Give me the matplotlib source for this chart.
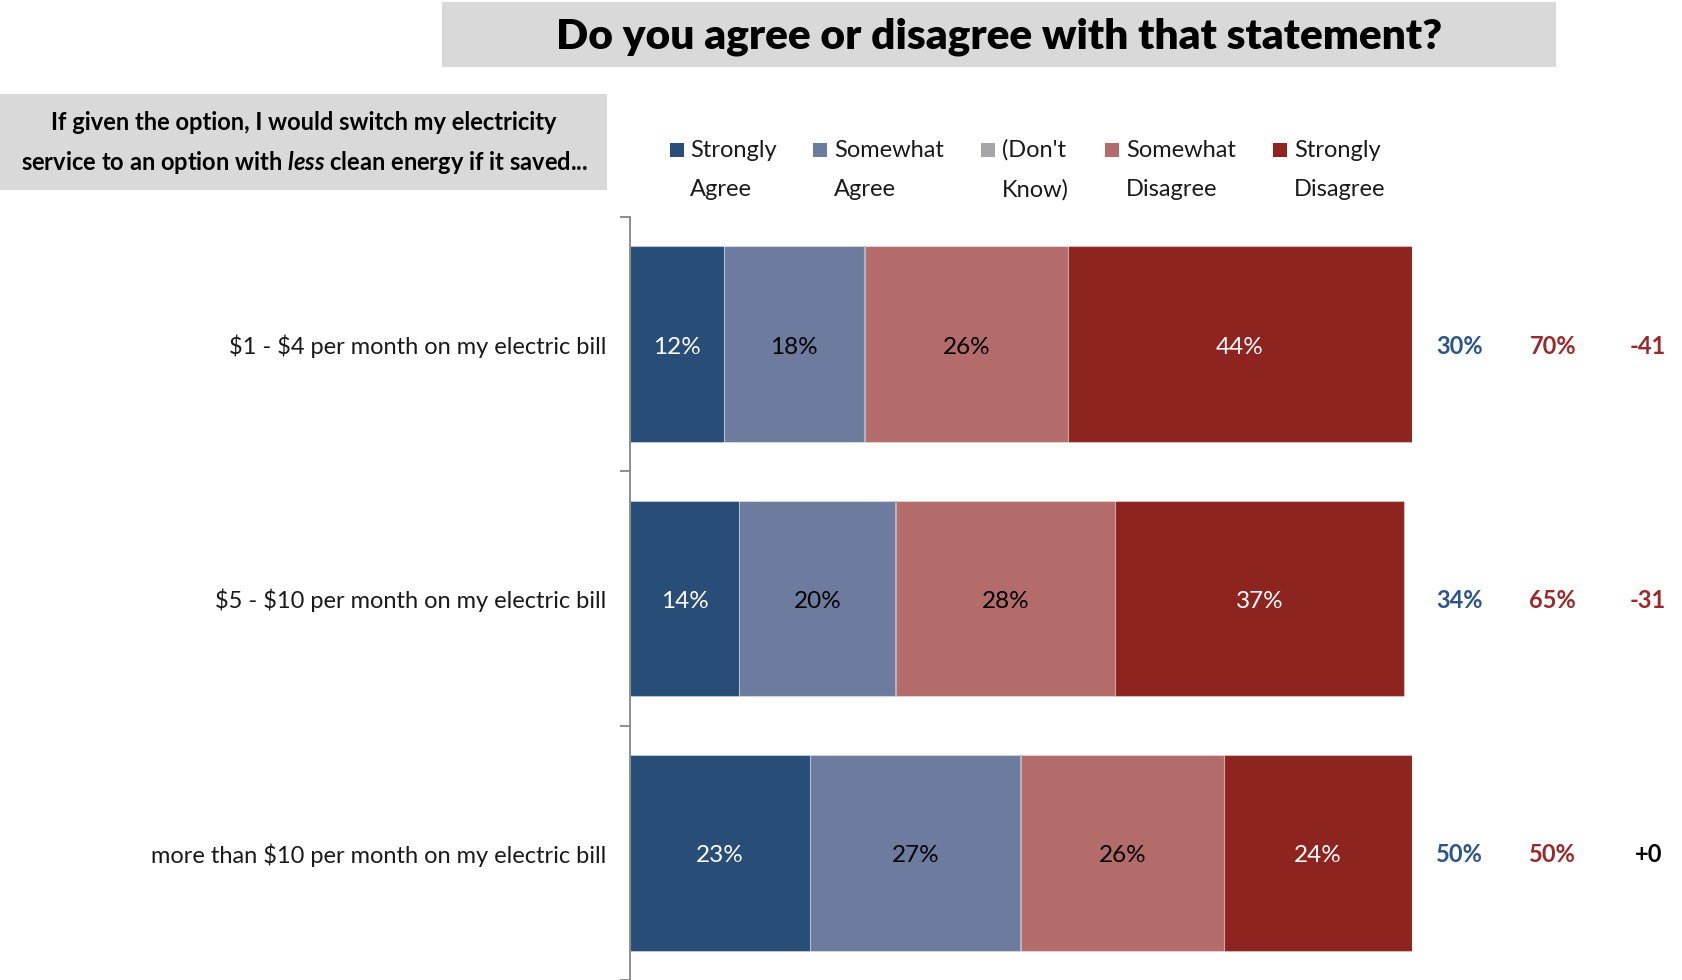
import matplotlib
matplotlib.use("Agg")
import matplotlib.pyplot as plt
from matplotlib.patches import Rectangle
import numpy as np

# ---- data -------------------------------------------------------------
categories = [
    "$1 - $4 per month on my electric bill",
    "$5 - $10 per month on my electric bill",
    "more than $10 per month on my electric bill",
]
series_names = ["Strongly\nAgree", "Somewhat\nAgree", "(Don't\nKnow)",
                "Somewhat\nDisagree", "Strongly\nDisagree"]
strongly_agree = [12, 14, 23]
somewhat_agree = [18, 20, 27]
dont_know = [0, 0, 0]
somewhat_disagree = [26, 28, 26]
strongly_disagree = [44, 37, 24]
total_agree = [30, 34, 50]
total_disagree = [70, 65, 50]
net_score = [-41, -31, 0]

title = "Do you agree or disagree with that statement?"
question_line1 = "If given the option, I would switch my electricity"
question_line2 = r"service to an option with $\mathit{less}$ clean energy if it saved..."

# ---- style ------------------------------------------------------------
FONT = "Lato"
plt.rcParams["font.family"] = [FONT, "DejaVu Sans"]
plt.rcParams["mathtext.fontset"] = "custom"
plt.rcParams["mathtext.rm"] = "Lato:bold"
plt.rcParams["mathtext.it"] = "Lato:italic:bold"
plt.rcParams["mathtext.bf"] = "Lato:bold"

colors = ["#284d76", "#6d7b9e", "#a6a6a8", "#b36c69", "#8e2420"]
label_colors = ["white", "black", "black", "black", "white"]
AGREE_C = "#2d5588"
DISAGREE_C = "#9a2a2a"

W, H = 1683, 980
fig = plt.figure(figsize=(W / 100, H / 100), dpi=100)


def fx(px):
    return px / W


def fy(py):
    return 1 - py / H


# header boxes
fig.add_artist(Rectangle((fx(442), fy(67)), fx(1556) - fx(442), (67 - 2) / H,
                         transform=fig.transFigure, facecolor="#d9d9d9",
                         edgecolor="none"))
fig.text(fx(999), fy(37), title, ha="center", va="center",
         fontsize=30.5, fontweight="heavy", color="black")

fig.add_artist(Rectangle((0, fy(190)), fx(607), (190 - 94) / H,
                         transform=fig.transFigure, facecolor="#d9d9d9",
                         edgecolor="none"))
fig.text(fx(304), fy(122), question_line1, ha="center", va="center",
         fontsize=17, fontweight="bold", color="black")
fig.text(fx(304), fy(162), question_line2, ha="center", va="center",
         fontsize=17, fontweight="bold", color="black")

# legend
marker_x = [677, 820, 988, 1112, 1280]
text_x = [690, 834, 1002, 1126, 1294]
for name, c, mx, tx in zip(series_names, colors, marker_x, text_x):
    fig.add_artist(Rectangle((fx(mx - 7), fy(157)), 14 / W, 14 / H,
                             transform=fig.transFigure, facecolor=c,
                             edgecolor="none"))
    for k, line in enumerate(name.split("\n")):
        fig.text(fx(tx), fy(150 + 40 * k), line, ha="left", va="center",
                 fontsize=17, color="#1a1a1a")

# ---- bars -------------------------------------------------------------
ax = fig.add_axes([fx(630), 0, (1412 - 630) / W, (980 - 217) / H])
y = np.arange(len(categories))
values = [strongly_agree, somewhat_agree, dont_know,
          somewhat_disagree, strongly_disagree]
left = np.zeros(len(categories))
for vals, c, tc in zip(values, colors, label_colors):
    vals = np.asarray(vals, dtype=float)
    if vals.sum() == 0:
        # empty segment shows only as a thin divider
        ax.barh(y, vals, left=left, height=0.77, color=c,
                edgecolor="#b4b4b8", linewidth=1.5, zorder=3)
    else:
        bars = ax.barh(y, vals, left=left, height=0.77, color=c,
                       edgecolor=(1, 1, 1, 0.35), linewidth=0.8, zorder=2)
        for b, v in zip(bars, vals):
            ax.text(b.get_x() + b.get_width() / 2, b.get_y() + b.get_height() / 2 + 0.012,
                    f"{v:.0f}%", ha="center", va="center", color=tc, fontsize=17.5)
    left += vals

ax.set_xlim(0, 100)
ax.set_ylim(2.5, -0.5)
for s in ["top", "right", "bottom"]:
    ax.spines[s].set_visible(False)
ax.spines["left"].set_color("#868686")
ax.spines["left"].set_linewidth(1.3)
ax.set_xticks([])
ax.set_yticks(y)
ax.set_yticklabels([c.replace("$", r"\$") for c in categories])
ax.set_yticks(np.arange(-0.5, len(categories)), minor=True)
ax.tick_params(axis="y", which="major", length=0, pad=17, labelsize=17,
               labelcolor="#1a1a1a")
ax.tick_params(axis="y", which="minor", length=7, width=1.3,
               color="#868686", direction="out")

# summary columns
for i in range(len(categories)):
    yy = i + 0.008
    ax.text(106.1, yy, f"{total_agree[i]}%", ha="center", va="center",
            color=AGREE_C, fontsize=17, fontweight="bold", clip_on=False)
    ax.text(118.0, yy, f"{total_disagree[i]}%", ha="center", va="center",
            color=DISAGREE_C, fontsize=17, fontweight="bold", clip_on=False)
    n = net_score[i]
    ncol = DISAGREE_C if n < 0 else (AGREE_C if n > 0 else "black")
    ax.text(130.2, yy, f"{n:+d}", ha="center", va="center",
            color=ncol, fontsize=17, fontweight="bold", clip_on=False)

fig.savefig("out.png", dpi=100)
